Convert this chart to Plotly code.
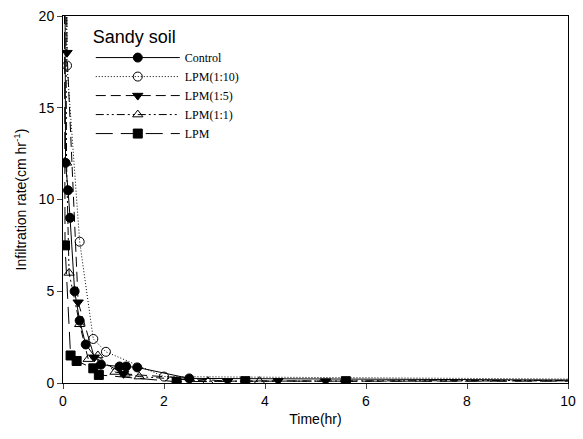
import plotly.graph_objects as go

# ---- data (time in hr, infiltration rate in cm/hr) ----
control_t = [0.0, 0.05, 0.10, 0.14, 0.23, 0.33, 0.45, 0.75, 1.12, 1.25, 1.47, 2.5, 11.0]
control_v = [60.0, 12.0, 10.5, 9.0, 5.0, 3.4, 2.1, 1.0, 0.9, 0.9, 0.85, 0.25, 0.15]

lpm110_t = [0.0, 0.08, 0.33, 0.60, 0.85, 2.0, 11.0]
lpm110_v = [60.0, 17.3, 7.7, 2.4, 1.7, 0.35, 0.2]

lpm15_t = [0.0, 0.08, 0.30, 0.62, 1.20, 3.26, 4.26, 5.20, 11.0]
lpm15_v = [60.0, 18.0, 4.4, 1.4, 0.5, 0.1, 0.12, 0.1, 0.12]

lpm11_t = [0.0, 0.07, 0.12, 0.33, 0.50, 0.69, 1.03, 1.23, 1.51, 2.87, 3.89, 11.0]
lpm11_v = [60.0, 12.0, 6.0, 3.2, 1.3, 1.5, 0.6, 0.5, 0.35, 0.1, 0.1, 0.15]

lpm_t = [0.0, 0.04, 0.15, 0.27, 0.60, 0.71, 2.25, 3.61, 5.60, 11.0]
lpm_v = [60.0, 7.5, 1.5, 1.2, 0.8, 0.44, 0.07, 0.1, 0.1, 0.1]

x_ticks = [0, 2, 4, 6, 8, 10]
y_ticks = [0, 5, 10, 15, 20]

series = [
    ("Control", control_t, control_v, "solid", "circle"),
    ("LPM(1:10)", lpm110_t, lpm110_v, "1px,2px", "circle-open"),
    ("LPM(1:5)", lpm15_t, lpm15_v, "10px,5px", "triangle-down"),
    ("LPM(1:1)", lpm11_t, lpm11_v, "8px,3px,2px,3px,2px,3px", "triangle-up-open"),
    ("LPM", lpm_t, lpm_v, "17px,8px", "square"),
]

fig = go.Figure()
for name, t, v, dash, sym in series:
    fig.add_trace(go.Scatter(
        x=t, y=v, name=name, mode="lines+markers",
        line=dict(color="black", width=1, dash=dash),
        marker=dict(symbol=sym, size=9, color="black",
                    line=dict(color="black", width=1)),
    ))

axis_font = dict(family="Liberation Sans, Arial", size=14, color="black")
fig.update_layout(
    width=583, height=439,
    margin=dict(l=63, r=7, t=16, b=56),
    paper_bgcolor="white", plot_bgcolor="white",
    font=axis_font,
    showlegend=True,
    legend=dict(
        x=0.055, y=0.99, xanchor="left", yanchor="top",
        bgcolor="rgba(0,0,0,0)",
        title=dict(text="Sandy soil", font=dict(family="Liberation Sans, Arial", size=18, color="black")),
        font=dict(family="Liberation Serif, Times New Roman", size=12, color="black"),
        itemwidth=84,
        tracegroupgap=0,
    ),
    xaxis=dict(
        range=[0, 10], tickvals=x_ticks, ticks="outside", ticklen=5,
        showgrid=False, zeroline=False, showline=True, linecolor="black",
        linewidth=1, mirror=True, tickfont=axis_font,
        ticklabeloverflow="allow",
        title=dict(text="Time(hr)", font=axis_font, standoff=6),
    ),
    yaxis=dict(
        range=[0, 20], tickvals=y_ticks, ticks="outside", ticklen=5,
        showgrid=False, zeroline=False, showline=True, linecolor="black",
        linewidth=1, mirror=True, tickfont=axis_font,
        title=dict(text="Infiltration rate(cm hr<sup>-1</sup>)", font=axis_font, standoff=8),
    ),
)

fig.write_html("out.html", config={"displayModeBar": False},
               post_script="document.body.style.margin='0';")
